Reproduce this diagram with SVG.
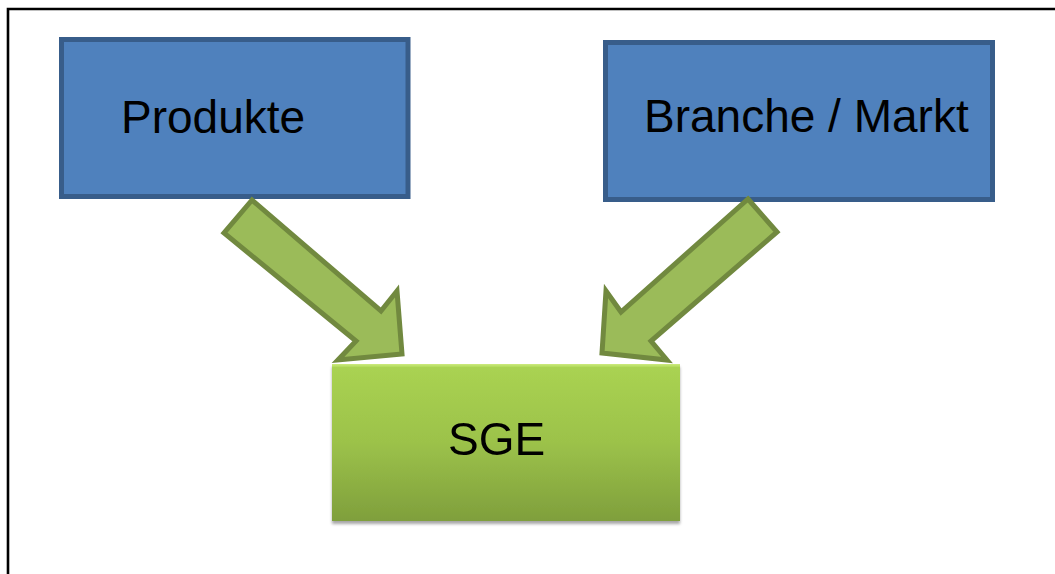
<svg xmlns="http://www.w3.org/2000/svg" width="1055" height="574" viewBox="0 0 1055 574">
  <style>
    .box { fill: #4f81bd; stroke: #385d8a; stroke-width: 5; }
    .label { font-family: "Liberation Sans", Arial, sans-serif; font-size: 46px; fill: #000; }
    .arrow { fill: #9bbb59; stroke: #71893f; stroke-width: 5; stroke-linejoin: miter; }
    .frame { fill: none; stroke: #000; stroke-width: 2.6; }
  </style>
  <defs>
    <linearGradient id="sgeFill" x1="0" y1="0" x2="0" y2="1">
      <stop offset="0" stop-color="#aad352"/>
      <stop offset="0.5" stop-color="#9cc24a"/>
      <stop offset="1" stop-color="#7f9f3c"/>
    </linearGradient>
    <linearGradient id="sgeEdge" x1="0" y1="0" x2="0" y2="1">
      <stop offset="0" stop-color="#d6f08a"/>
      <stop offset="1" stop-color="#b2dc5c"/>
    </linearGradient>
    <filter id="shadow" x="-5%" y="-5%" width="110%" height="115%">
      <feGaussianBlur in="SourceAlpha" stdDeviation="1.5"/>
      <feOffset dx="0" dy="3" result="off"/>
      <feComponentTransfer><feFuncA type="linear" slope="0.35"/></feComponentTransfer>
      <feMerge><feMergeNode/><feMergeNode in="SourceGraphic"/></feMerge>
    </filter>
  </defs>

  <rect x="0" y="0" width="1055" height="574" fill="#fff"/>
  <path class="frame" d="M8,574 V9 H1055"/>

  <g id="node-produkte">
    <rect class="box" x="61.5" y="39.5" width="346.5" height="157"/>
    <text class="label" x="121" y="133">Produkte</text>
  </g>

  <g id="node-branche">
    <rect class="box" x="605.5" y="42.5" width="387" height="157"/>
    <text class="label" x="644" y="132">Branche / Markt</text>
  </g>

  <g id="connectors">
    <polygon class="arrow" points="252,200 224,233 356,341 338,360 402,354 397,291 381,311"/>
    <polygon class="arrow" points="748,199 777,232 651,341 667,360 602,353 606,291 621,312"/>
  </g>

  <g id="node-sge" filter="url(#shadow)">
    <rect x="332" y="364" width="348" height="157" fill="url(#sgeFill)"/>
    <rect x="332" y="364" width="348" height="3" fill="url(#sgeEdge)" opacity="0.8"/>
    <text class="label" x="448" y="455">SGE</text>
  </g>
</svg>
